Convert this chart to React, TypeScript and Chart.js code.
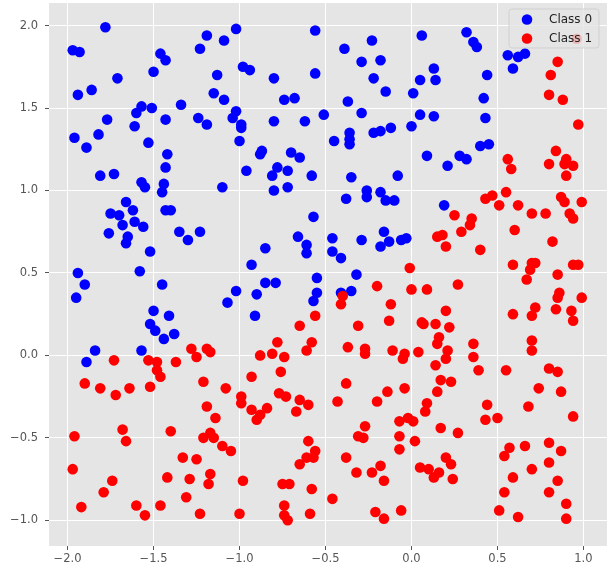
import React, { useEffect, useRef } from "react";
import { Chart, registerables } from "chart.js";

Chart.register(...registerables);

const seriesNames = ["Class 0", "Class 1"];
const seriesColors = ["#0000ff", "#ff0000"];

const xTickRange = [-2.108, 1.137];
const yTickRange = [-1.156, 2.137];

const class0Points: [number, number][] = [
  [-1.78,1.99],[-1.97,1.85],[-1.93,1.84],[-1.46,1.83],[-1.43,1.79],[-1.50,1.72],[-1.71,1.68],[-1.86,1.61],[-1.94,1.58],[-1.57,1.51],[-1.60,1.47],[-1.51,1.50],[-1.77,1.43],[-1.61,1.39],[-1.43,1.43],[-1.34,1.52],[-1.24,1.44],[-1.19,1.40],[-1.96,1.32],[-1.89,1.26],[-1.82,1.34],[-1.53,1.29],[-1.42,1.22],[-1.43,1.14],[-1.81,1.09],[-1.73,1.10],[-1.13,1.70],[-1.15,1.59],[-1.09,1.55],[-1.23,1.86],[-1.19,1.94],[-1.09,1.91],
  [-1.02,1.98],[-0.56,1.97],[-0.39,1.86],[-0.23,1.91],[-0.29,1.78],[-0.18,1.79],[-0.98,1.75],[-0.94,1.73],[-0.80,1.68],[-0.56,1.71],[-0.22,1.68],[-0.15,1.60],[0.01,1.59],[-0.74,1.55],[-0.68,1.56],[-0.37,1.54],[-1.02,1.48],[-1.04,1.44],[-0.99,1.40],[-0.99,1.38],[-1.00,1.30],[-0.80,1.42],[-0.62,1.42],[-0.51,1.46],[-0.29,1.47],[-0.45,1.30],[-0.36,1.35],[-0.36,1.31],[-0.36,1.28],[-0.22,1.35],[-0.18,1.36],[-0.12,1.38],[0.00,1.39],[-0.87,1.24],[-0.88,1.22],[-0.70,1.23],[-0.65,1.20],[-0.96,1.12],[-0.78,1.14],[-0.81,1.09],[-0.72,1.12],[-0.58,1.09],[-0.35,1.08],[-0.08,1.09],
  [0.06,1.94],[0.32,1.96],[0.36,1.90],[0.38,1.87],[0.56,1.82],[0.62,1.81],[0.66,1.83],[0.59,1.74],[0.13,1.74],[0.05,1.67],[0.14,1.67],[0.44,1.70],[0.42,1.56],[0.05,1.46],[0.13,1.45],[0.43,1.44],[0.40,1.27],[0.45,1.28],[0.09,1.21],[0.21,1.15],[0.28,1.21],[0.32,1.19],
  [-1.57,1.05],[-1.55,1.02],[-1.44,1.04],[-1.45,0.99],[-1.10,1.02],[-1.66,0.93],[-1.75,0.86],[-1.70,0.85],[-1.62,0.88],[-1.61,0.81],[-1.56,0.78],[-1.68,0.79],[-1.76,0.74],[-1.65,0.72],[-1.66,0.68],[-1.43,0.88],[-1.40,0.88],[-1.35,0.75],[-1.30,0.70],[-1.23,0.75],[-1.52,0.63],[-1.58,0.51],[-1.94,0.50],[-1.90,0.43],[-1.95,0.35],[-1.45,0.43],[-1.50,0.27],[-1.41,0.24],[-1.52,0.19],[-1.49,0.15],[-1.44,0.10],[-1.38,0.13],[-1.84,0.03],[-1.57,0.03],[-1.89,-0.04],[-1.07,0.32],
  [-0.72,1.02],[-0.80,1.00],[-0.38,0.95],[-0.26,1.00],[-0.26,0.96],[-0.18,0.99],[-0.15,0.94],[-0.10,0.94],[-0.57,0.84],[-0.66,0.72],[-0.61,0.67],[-0.61,0.62],[-0.85,0.65],[-0.46,0.71],[-0.46,0.63],[-0.41,0.59],[-0.29,0.70],[-0.16,0.75],[-0.13,0.69],[-0.18,0.66],[-0.06,0.70],[-0.03,0.71],[-0.93,0.55],[-0.32,0.49],[-0.55,0.47],[-1.02,0.39],[-0.85,0.44],[-0.79,0.44],[-0.90,0.37],[-0.55,0.38],[-0.57,0.33],[-0.41,0.38],[-0.35,0.39],[-0.91,0.24],
  [0.19,0.91],
];

const class1Points: [number, number][] = [
  [0.96,1.92],[0.85,1.78],[0.81,1.70],[0.80,1.58],[0.88,1.55],[0.97,1.40],[0.84,1.24],[0.56,1.19],[0.58,1.13],[0.80,1.16],[0.90,1.19],[0.89,1.16],[0.94,1.15],[0.90,1.09],
  [-1.73,-0.03],[-1.53,-0.03],[-1.48,-0.04],[-1.37,-0.04],[-1.28,0.04],[-1.25,-0.01],[-1.19,0.04],[-1.17,0.02],
  [-0.01,0.53],[-0.20,0.42],[0.00,0.40],[-0.40,0.36],[-0.41,0.31],[-0.12,0.31],[-0.13,0.21],[-0.56,0.24],[-0.65,0.18],[-0.31,0.18],[-0.78,0.08],[-0.58,0.08],[-0.61,0.03],[-0.88,0.00],[-0.81,0.01],[-0.74,-0.01],[-0.37,0.05],[-0.27,0.04],[-0.27,0.01],[-0.11,0.03],[-0.04,0.01],[-0.05,-0.02],
  [0.43,0.95],[0.47,0.97],[0.55,0.99],[0.51,0.91],[0.62,0.91],[0.25,0.85],[0.35,0.83],[0.34,0.79],[0.29,0.75],[0.15,0.72],[0.18,0.73],[0.20,0.66],[0.40,0.64],[0.60,0.76],[0.70,0.86],[0.78,0.86],[0.87,0.96],[0.89,0.93],[0.99,0.93],[0.92,0.86],[0.94,0.83],[0.82,0.69],[0.59,0.55],[0.70,0.56],[0.72,0.56],[0.69,0.52],[0.67,0.46],[0.94,0.55],[0.97,0.55],[0.85,0.49],[0.09,0.40],[0.27,0.43],[0.86,0.38],[0.85,0.35],[0.99,0.35],[0.20,0.27],[0.72,0.29],[0.70,0.24],[0.59,0.25],[0.84,0.28],[0.93,0.27],[0.94,0.21],[0.06,0.20],[0.07,0.19],[0.14,0.19],[0.22,0.17],[0.16,0.11],[0.15,0.07],[0.21,0.03],[0.20,-0.02],[0.36,0.07],[0.36,-0.01],[0.70,0.09],[0.70,0.03],[0.04,0.02],
  [-1.48,-0.09],[-1.46,-0.13],[-1.90,-0.17],[-1.81,-0.20],[-1.72,-0.24],[-1.64,-0.20],[-1.52,-0.19],[-1.21,-0.16],[-1.08,-0.20],[-1.19,-0.31],[-1.14,-0.38],[-1.68,-0.45],[-1.66,-0.52],[-1.96,-0.49],[-1.40,-0.46],[-1.21,-0.50],[-1.17,-0.47],[-1.15,-0.50],[-1.10,-0.55],[-1.05,-0.58],[-1.97,-0.69],[-1.33,-0.62],[-1.25,-0.63],[-1.74,-0.76],[-1.79,-0.83],[-1.42,-0.74],[-1.29,-0.75],[-1.17,-0.72],[-1.18,-0.78],[-1.31,-0.86],[-1.92,-0.92],[-1.60,-0.91],[-1.55,-0.97],[-1.46,-0.91],[-1.23,-0.96],
  [-0.93,-0.13],[-0.76,-0.10],[-0.99,-0.25],[-0.99,-0.29],[-0.77,-0.23],[-0.73,-0.25],[-0.93,-0.33],[-0.84,-0.32],[-0.90,-0.39],[-0.88,-0.36],[-0.65,-0.27],[-0.60,-0.30],[-0.67,-0.34],[-0.38,-0.17],[-0.43,-0.28],[-0.14,-0.22],[-0.04,-0.20],[-0.20,-0.28],[-0.27,-0.43],[-0.31,-0.49],[-0.28,-0.50],[-0.07,-0.40],[-0.02,-0.38],[0.01,-0.40],[-0.07,-0.49],[-0.07,-0.57],[0.02,-0.52],[-0.60,-0.52],[-0.56,-0.58],[-0.61,-0.62],[-0.57,-0.62],[-0.65,-0.66],[-0.38,-0.62],[-0.32,-0.71],[-0.23,-0.71],[-0.18,-0.67],[-0.16,-0.76],[-0.98,-0.76],[-0.75,-0.78],[-0.71,-0.78],[-0.58,-0.81],[-0.46,-0.87],[-0.74,-0.91],[-0.74,-0.97],[-0.72,-1.00],[-0.59,-0.96],[-1.00,-0.96],[-0.21,-0.95],[-0.16,-0.99],[-0.06,-0.94],
  [0.14,-0.06],[0.39,-0.09],[0.55,-0.09],[0.80,-0.08],[0.85,-0.10],[0.17,-0.15],[0.23,-0.16],[0.15,-0.22],[0.74,-0.20],[0.87,-0.22],[0.09,-0.29],[0.08,-0.34],[0.44,-0.30],[0.43,-0.39],[0.50,-0.38],[0.68,-0.31],[0.94,-0.37],[0.17,-0.44],[0.27,-0.47],[0.57,-0.56],[0.54,-0.61],[0.66,-0.55],[0.80,-0.53],[0.87,-0.58],[0.20,-0.62],[0.23,-0.66],[0.05,-0.68],[0.10,-0.69],[0.16,-0.71],[0.13,-0.74],[0.24,-0.75],[0.70,-0.69],[0.80,-0.65],[0.59,-0.74],[0.85,-0.76],[0.80,-0.83],[0.54,-0.83],[0.90,-0.90],[0.51,-0.94],[0.62,-0.98],[0.90,-0.99],
];

const FONT = "'DejaVu Sans', sans-serif";
const fmt = (v: number) => v.toFixed(1).replace("-", "\u2212");

const bgPlugin = {
  id: "bg",
  beforeDraw(chart: any) {
    const { ctx, chartArea: a } = chart;
    ctx.save();
    ctx.fillStyle = "#E5E5E5";
    ctx.fillRect(a.left, a.top, a.right - a.left, a.bottom - a.top);
    ctx.restore();
  },
};

const legendPlugin = {
  id: "mplLegend",
  afterDraw(chart: any) {
    const { ctx } = chart;
    const x = 509, y = 9, w = 90, h = 39, r = 3;
    ctx.save();
    ctx.beginPath();
    ctx.moveTo(x + r, y);
    ctx.arcTo(x + w, y, x + w, y + h, r);
    ctx.arcTo(x + w, y + h, x, y + h, r);
    ctx.arcTo(x, y + h, x, y, r);
    ctx.arcTo(x, y, x + w, y, r);
    ctx.closePath();
    ctx.fillStyle = "rgba(229,229,229,0.8)";
    ctx.fill();
    ctx.strokeStyle = "rgba(204,204,204,0.8)";
    ctx.lineWidth = 1;
    ctx.stroke();
    seriesNames.forEach((name, i) => {
      const cy = y + 10.5 + i * 19;
      ctx.beginPath();
      ctx.arc(x + 18, cy, 5.3, 0, Math.PI * 2);
      ctx.fillStyle = seriesColors[i];
      ctx.fill();
      ctx.fillStyle = "#222";
      ctx.font = `12px ${FONT}`;
      ctx.textBaseline = "middle";
      ctx.textAlign = "left";
      ctx.fillText(name, x + 40, cy + 0.5);
    });
    ctx.restore();
  },
};

const zeroPad = (s: any) => {
  s.paddingTop = 0;
  s.paddingBottom = 0;
  s.paddingLeft = 0;
  s.paddingRight = 0;
};

export default function App() {
  const ref = useRef<HTMLCanvasElement>(null);
  useEffect(() => {
    const canvas = ref.current!;
    const tickFont = { family: FONT, size: 11.5 };
    const chart = new Chart(canvas, {
      type: "scatter",
      data: {
        datasets: [
          {
            label: seriesNames[0],
            data: class0Points.map(([x, y]) => ({ x, y })),
            backgroundColor: seriesColors[0],
            borderWidth: 0,
            pointRadius: 5.3,
            order: 1,
          },
          {
            label: seriesNames[1],
            data: class1Points.map(([x, y]) => ({ x, y })),
            backgroundColor: seriesColors[1],
            borderWidth: 0,
            pointRadius: 5.3,
            order: 0,
          },
        ],
      },
      options: {
        responsive: false,
        animation: false,
        devicePixelRatio: 1,
        layout: { autoPadding: false, padding: { top: 3, right: 0, left: 0, bottom: 0 } },
        plugins: { legend: { display: false }, tooltip: { enabled: false } },
        scales: {
          x: {
            type: "linear",
            min: xTickRange[0],
            max: xTickRange[1],
            border: { display: false },
            grid: { color: "#ffffff", lineWidth: 1, tickColor: "#555555", tickLength: 4 },
            ticks: {
              stepSize: 0.5,
              includeBounds: false,
              color: "#555555",
              font: tickFont,
              padding: 2,
              maxRotation: 0,
              autoSkip: false,
              callback: (v: any) => fmt(Number(v)),
            },
            afterFit: (s: any) => { s.height = 25; zeroPad(s); },
          },
          y: {
            type: "linear",
            min: yTickRange[0],
            max: yTickRange[1],
            border: { display: false },
            grid: { color: "#ffffff", lineWidth: 1, tickColor: "#555555", tickLength: 4 },
            ticks: {
              stepSize: 0.5,
              includeBounds: false,
              color: "#555555",
              font: tickFont,
              padding: 7,
              autoSkip: false,
              callback: (v: any) => fmt(Number(v)),
            },
            afterFit: (s: any) => { s.width = 49; zeroPad(s); },
          },
        },
      },
      plugins: [bgPlugin, legendPlugin],
    } as any);
    return () => chart.destroy();
  }, []);
  return (
    <div style={{ position: "fixed", left: 0, top: 0, width: 607, height: 571, background: "#fff" }}>
      <canvas ref={ref} width={607} height={571} style={{ display: "block" }} />
    </div>
  );
}
